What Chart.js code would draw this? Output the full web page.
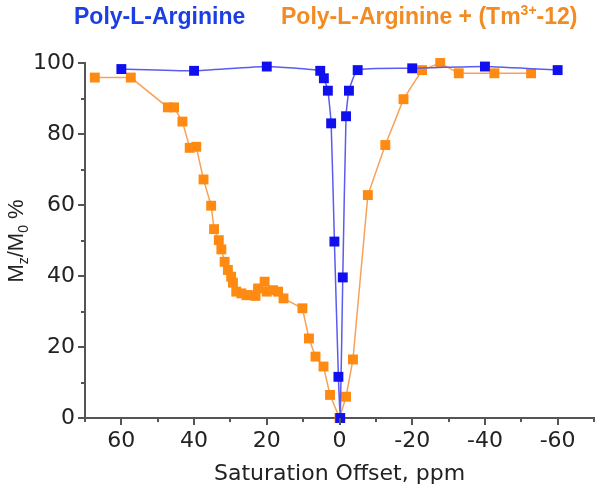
<!DOCTYPE html>
<html>
<head>
<meta charset="utf-8">
<script src="https://cdn.jsdelivr.net/npm/chart.js@4"></script>
<style>
  body { margin: 0; background: #fff; }
  canvas { display: block; }
</style>
</head>
<body>
<canvas id="chart" width="602" height="498"></canvas>
<script>
// Poly-L-Arginine (blue)
const blueX = [60, 40, 20, 5.3, 4.3, 3.2, 2.3, 1.4, 0.3, -0.2, -0.9, -1.8, -2.6, -5, -20, -40, -60];
const blueY = [98.3, 97.8, 99, 97.8, 95.7, 92.2, 83, 49.7, 11.6, 0, 39.6, 85, 92.2, 98, 98.5, 99, 98];

// Poly-L-Arginine + (Tm3+-12) (orange)
const orangeX = [67.3, 57.4, 47.2, 45.5, 43.2, 41.2, 39.4, 37.4, 35.3, 34.5, 33.2, 32.5, 31.6, 30.7, 29.8, 29.3,
  28.4, 27, 25.6, 24.3, 23.1, 22.4, 20.6, 20, 18.3, 16.9, 15.4, 10.2, 8.4, 6.6, 4.4, 2.6, 0, -1.8, -3.7,
  -7.8, -12.6, -17.6, -22.7, -27.7, -32.8, -42.6, -52.7];
const orangeY = [95.9, 95.9, 87.5, 87.5, 83.5, 76.1, 76.4, 67.2, 59.8, 53.2, 50.1, 47.5, 44, 41.7, 39.8, 38.1,
  35.6, 35.1, 34.6, 34.6, 34.4, 36.5, 38.4, 35.6, 36, 35.6, 33.7, 30.9, 22.4, 17.3, 14.5, 6.5, 0, 6, 16.5,
  62.8, 76.9, 89.8, 98, 100, 97.1, 97.1, 97.1];

const xTicks = [60, 40, 20, 0, -20, -40, -60];
const yTicks = [0, 20, 40, 60, 80, 100];

const toPoints = (xs, ys) => xs.map((x, i) => ({ x: x, y: ys[i] }));

// minor + major tick marks drawn on the library scales
const tickMarks = {
  id: "tickMarks",
  afterDraw(chart) {
    const ctx = chart.ctx;
    const xs = chart.scales.x;
    const ys = chart.scales.y;
    ctx.save();
    ctx.strokeStyle = "#555";
    ctx.lineWidth = 2;
    ctx.beginPath();
    for (let v = -70; v <= 70; v += 10) {
      const px = Math.round(xs.getPixelForValue(v));
      const len = v % 20 === 0 ? 7 : 4;
      ctx.moveTo(px, ys.bottom);
      ctx.lineTo(px, ys.bottom + len);
    }
    for (let v = 0; v <= 100; v += 10) {
      const py = Math.round(ys.getPixelForValue(v));
      const len = v % 20 === 0 ? 7 : 4;
      ctx.moveTo(xs.left, py);
      ctx.lineTo(xs.left - len, py);
    }
    ctx.stroke();
    ctx.restore();
  },
};

// draw runs of text with sub/superscripts
function drawRuns(ctx, runs, x, y, size, weight, family) {
  let cx = x;
  for (const r of runs) {
    const s = r.sub || r.sup ? Math.round(size * 0.62) : size;
    ctx.font = weight + " " + s + "px " + family;
    const dy = r.sub ? size * 0.22 : r.sup ? -size * 0.38 : 0;
    ctx.fillText(r.t, cx, y + dy);
    cx += ctx.measureText(r.t).width;
  }
  return cx - x;
}

function runsWidth(ctx, runs, size, weight, family) {
  let w = 0;
  for (const r of runs) {
    const s = r.sub || r.sup ? Math.round(size * 0.62) : size;
    ctx.font = weight + " " + s + "px " + family;
    w += ctx.measureText(r.t).width;
  }
  return w;
}

const labels = {
  id: "labels",
  afterDraw(chart) {
    const ctx = chart.ctx;
    ctx.save();
    ctx.textAlign = "left";
    ctx.textBaseline = "alphabetic";

    // series names on top
    ctx.fillStyle = "#1d3fe2";
    drawRuns(ctx, [{ t: "Poly-L-Arginine" }], 74, 24, 23, "bold", "Arial, 'Liberation Sans'");
    ctx.fillStyle = "#f28b22";
    drawRuns(ctx, [{ t: "Poly-L-Arginine + (Tm" }, { t: "3+", sup: true }, { t: "-12)" }],
      281, 24, 23, "bold", "Arial, 'Liberation Sans'");

    // y axis title
    const yRuns = [{ t: "M" }, { t: "z", sub: true }, { t: "/M" }, { t: "0", sub: true }, { t: " %" }];
    const w = runsWidth(ctx, yRuns, 22, "normal", "Arial, 'Liberation Sans'");
    ctx.fillStyle = "#222";
    ctx.translate(23, 241);
    ctx.rotate(-Math.PI / 2);
    drawRuns(ctx, yRuns, -w / 2, 0, 22, "normal", "Arial, 'Liberation Sans'");
    ctx.restore();
  },
};

new Chart(document.getElementById("chart"), {
  type: "scatter",
  data: {
    datasets: [
      {
        label: "Poly-L-Arginine",
        data: toPoints(blueX, blueY),
        showLine: true,
        borderColor: "#5a5cf0",
        borderWidth: 1.5,
        tension: 0.15,
        pointStyle: "rect",
        pointRadius: 7,
        pointBackgroundColor: "#1010ee",
        pointBorderColor: "#1010ee",
        pointBorderWidth: 0,
      },
      {
        label: "Poly-L-Arginine + (Tm3+-12)",
        data: toPoints(orangeX, orangeY),
        showLine: true,
        borderColor: "#f7a258",
        borderWidth: 1.5,
        tension: 0,
        pointStyle: "rect",
        pointRadius: 7,
        pointBackgroundColor: "#ff8a12",
        pointBorderColor: "#ff8a12",
        pointBorderWidth: 0,
      },
    ],
  },
  options: {
    responsive: false,
    animation: false,
    devicePixelRatio: 1,
    clip: false,
    layout: { padding: { top: 63, right: 8, left: 0, bottom: 0 } },
    plugins: { legend: { display: false }, tooltip: { enabled: false } },
    scales: {
      x: {
        type: "linear",
        reverse: true,
        min: -70,
        max: 70,
        afterFit: (s) => { s.height = 80; },
        afterBuildTicks: (s) => { s.ticks = xTicks.map((v) => ({ value: v })); },
        grid: { display: false, drawTicks: true, tickLength: 7 },
        border: { display: true, color: "#555", width: 2 },
        ticks: {
          padding: 3,
          color: "#222",
          font: { family: "'DejaVu Sans'", size: 22 },
          maxRotation: 0,
        },
        title: {
          display: true,
          text: "Saturation Offset, ppm",
          color: "#222",
          font: { family: "'DejaVu Sans'", size: 22 },
          padding: { top: 0, bottom: 11 },
        },
      },
      y: {
        type: "linear",
        min: 0,
        max: 100,
        afterFit: (s) => { s.width = 85; },
        afterBuildTicks: (s) => { s.ticks = yTicks.map((v) => ({ value: v })); },
        grid: { display: false, drawTicks: true, tickLength: 7 },
        border: { display: true, color: "#555", width: 2 },
        ticks: {
          padding: 3,
          color: "#222",
          font: { family: "'DejaVu Sans'", size: 22 },
        },
      },
    },
  },
  plugins: [tickMarks, labels],
});
</script>
</body>
</html>
